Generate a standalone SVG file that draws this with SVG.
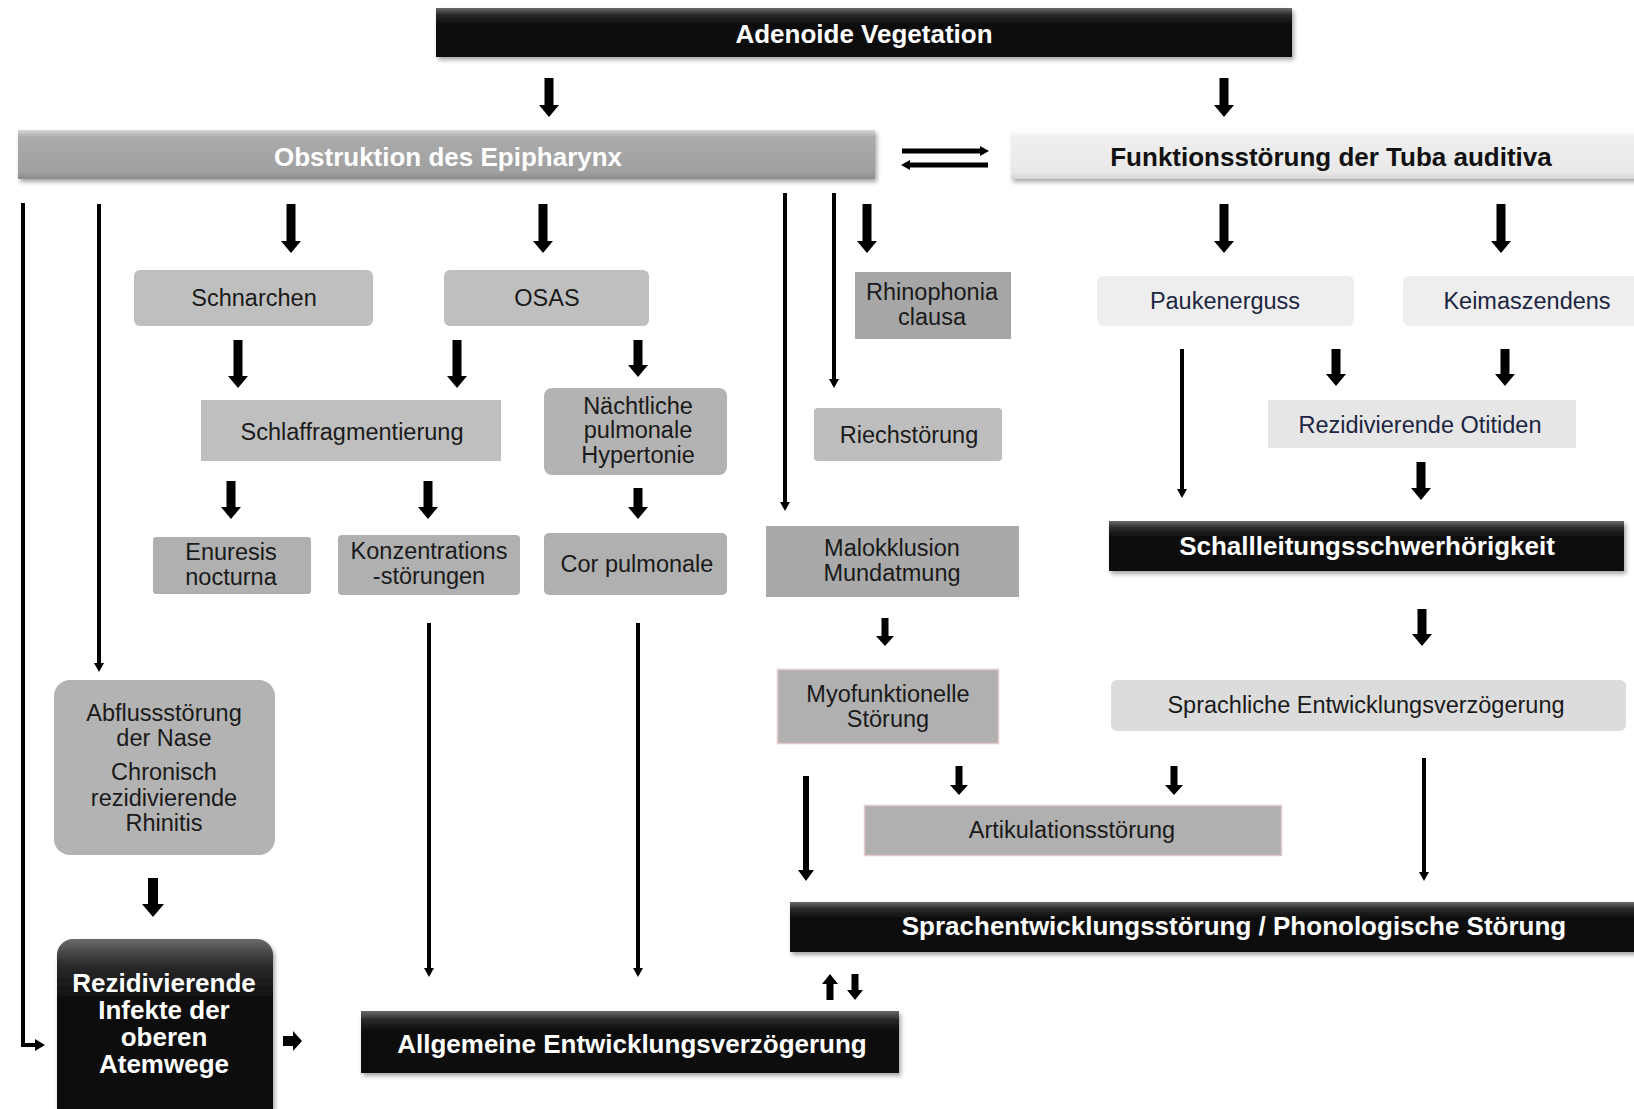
<svg xmlns="http://www.w3.org/2000/svg" width="1634" height="1109" viewBox="0 0 1634 1109">
<defs>
<linearGradient id="gBlack" x1="0" y1="0" x2="0" y2="1">
<stop offset="0" stop-color="#6a6a6a"/><stop offset="0.14" stop-color="#2a2a2a"/><stop offset="0.3" stop-color="#111"/><stop offset="1" stop-color="#0a0a0a"/>
</linearGradient>
<linearGradient id="gGray" x1="0" y1="0" x2="0" y2="1">
<stop offset="0" stop-color="#d8d8d8"/><stop offset="0.14" stop-color="#ababab"/><stop offset="0.85" stop-color="#a0a0a0"/><stop offset="1" stop-color="#8c8c8c"/>
</linearGradient>
<linearGradient id="gLight" x1="0" y1="0" x2="0" y2="1">
<stop offset="0" stop-color="#ffffff"/><stop offset="0.15" stop-color="#efefef"/><stop offset="0.85" stop-color="#e9e9e9"/><stop offset="1" stop-color="#d4d4d4"/>
</linearGradient>
<filter id="sh" x="-5%" y="-20%" width="110%" height="150%">
<feDropShadow dx="2" dy="3" stdDeviation="2" flood-color="#000" flood-opacity="0.35"/>
</filter>
<style>
.t{font-family:"Liberation Sans",Arial,sans-serif;font-size:23.5px;fill:#1a1a1a;text-anchor:middle;dominant-baseline:central}
.b{font-family:"Liberation Sans",Arial,sans-serif;font-size:26px;font-weight:bold;fill:#fff;text-anchor:middle;dominant-baseline:central}
.navy{fill:#1c2541}
.dk{fill:#111}
.arr{fill:#000}
.ln{stroke:#000;fill:none;stroke-width:4}
</style>
</defs>

<g id="n-adenoide"><rect x="436" y="8" width="856" height="49" fill="url(#gBlack)" filter="url(#sh)"/><text class="b" x="864" y="34">Adenoide Vegetation</text></g>
<g id="n-obstruktion"><rect x="18" y="130" width="857" height="49" fill="url(#gGray)" filter="url(#sh)"/><text class="b" x="448" y="157">Obstruktion des Epipharynx</text></g>
<g id="n-funktion"><rect x="1011" y="130" width="640" height="49" fill="url(#gLight)" filter="url(#sh)"/><text class="b dk" x="1331" y="157">Funktionsstörung der Tuba auditiva</text></g>
<g id="n-schnarchen"><rect x="134" y="270" width="239" height="56" rx="6" fill="#bfbfbf"/><text class="t" x="254" y="298">Schnarchen</text></g>
<g id="n-osas"><rect x="444" y="270" width="205" height="56" rx="6" fill="#bfbfbf"/><text class="t" x="547" y="298">OSAS</text></g>
<g id="n-rhinophonia"><rect x="855" y="272" width="156" height="67" fill="#a6a6a6"/><text class="t" x="932" y="292">Rhinophonia</text><text class="t" x="932" y="317">clausa</text></g>
<g id="n-paukenerguss"><rect x="1097" y="276" width="257" height="50" rx="6" fill="#eeeeee"/><text class="t navy" x="1225" y="301">Paukenerguss</text></g>
<g id="n-keimaszendens"><rect x="1403" y="276" width="240" height="50" rx="6" fill="#eeeeee"/><text class="t navy" x="1527" y="301">Keimaszendens</text></g>
<g id="n-schlaf"><rect x="201" y="400" width="300" height="61" fill="#bfbfbf"/><text class="t" x="352" y="432">Schlaffragmentierung</text></g>
<g id="n-naechtlich"><rect x="544" y="388" width="183" height="87" rx="8" fill="#b3b3b3"/><text class="t" x="638" y="406">Nächtliche</text><text class="t" x="638" y="430">pulmonale</text><text class="t" x="638" y="455">Hypertonie</text></g>
<g id="n-riech"><rect x="814" y="408" width="188" height="53" rx="4" fill="#bdbdbd"/><text class="t" x="909" y="435">Riechstörung</text></g>
<g id="n-otitiden"><rect x="1268" y="400" width="308" height="48" fill="#e6e6e6"/><text class="t navy" x="1420" y="425">Rezidivierende Otitiden</text></g>
<g id="n-enuresis"><rect x="153" y="537" width="158" height="57" rx="3" fill="#b0b0b0"/><text class="t" x="231" y="552">Enuresis</text><text class="t" x="231" y="577">nocturna</text></g>
<g id="n-konz"><rect x="338" y="535" width="182" height="60" rx="4" fill="#b0b0b0"/><text class="t" x="429" y="551">Konzentrations</text><text class="t" x="429" y="576">-störungen</text></g>
<g id="n-cor"><rect x="544" y="533" width="183" height="62" rx="5" fill="#b0b0b0"/><text class="t" x="637" y="564">Cor pulmonale</text></g>
<g id="n-malokklusion"><rect x="766" y="526" width="253" height="71" fill="#a9a9a9"/><text class="t" x="892" y="548">Malokklusion</text><text class="t" x="892" y="573">Mundatmung</text></g>
<g id="n-schall"><rect x="1109" y="521" width="515" height="50" fill="url(#gBlack)" filter="url(#sh)"/><text class="b" x="1367" y="546">Schallleitungsschwerhörigkeit</text></g>
<g id="n-abfluss"><rect x="54" y="680" width="221" height="175" rx="16" fill="#b3b3b3"/><text class="t" x="164" y="713">Abflussstörung</text><text class="t" x="164" y="738">der Nase</text><text class="t" x="164" y="772">Chronisch</text><text class="t" x="164" y="798">rezidivierende</text><text class="t" x="164" y="823">Rhinitis</text></g>
<g id="n-myo"><rect x="777.5" y="669.5" width="221" height="74" fill="#b0b0b0" stroke="#e2caca" stroke-width="1.5"/><text class="t" x="888" y="694">Myofunktionelle</text><text class="t" x="888" y="719">Störung</text></g>
<g id="n-sprachlich"><rect x="1111" y="680" width="515" height="51" rx="6" fill="#dcdcdc"/><text class="t" x="1366" y="705" fill="#333">Sprachliche Entwicklungsverzögerung</text></g>
<g id="n-artikulation"><rect x="864.5" y="805.5" width="417" height="50" fill="#b0b0b0" stroke="#e2caca" stroke-width="1.5"/><text class="t" x="1072" y="830">Artikulationsstörung</text></g>
<g id="n-sprachentw"><rect x="790" y="902" width="860" height="50" fill="url(#gBlack)" filter="url(#sh)"/><text class="b" x="1234" y="926">Sprachentwicklungsstörung / Phonologische Störung</text></g>
<g id="n-infekte"><rect x="57" y="939" width="216" height="190" rx="16" fill="url(#gBlack)" filter="url(#sh)"/><text class="b" x="164" y="983">Rezidivierende</text><text class="b" x="164" y="1010">Infekte der</text><text class="b" x="164" y="1037">oberen</text><text class="b" x="164" y="1064">Atemwege</text></g>
<g id="n-allgemein"><rect x="361" y="1011" width="538" height="62" fill="url(#gBlack)" filter="url(#sh)"/><text class="b" x="632" y="1044">Allgemeine Entwicklungsverzögerung</text></g>

<g id="connectors">
<!-- thick short block arrows -->
<path class="arr" d="M544.5 78H553.5V105H559L549 117L539 105H544.5Z"/>
<path class="arr" d="M1219.5 78H1228.5V105H1234L1224 117L1214 105H1219.5Z"/>
<path class="arr" d="M286.5 204H295.5V241H301L291 253L281 241H286.5Z"/>
<path class="arr" d="M538.5 204H547.5V241H553L543 253L533 241H538.5Z"/>
<path class="arr" d="M862.5 204H871.5V241H877L867 253L857 241H862.5Z"/>
<path class="arr" d="M1219.5 204H1228.5V241H1234L1224 253L1214 241H1219.5Z"/>
<path class="arr" d="M1496.5 204H1505.5V241H1511L1501 253L1491 241H1496.5Z"/>
<path class="arr" d="M233.5 340H242.5V376H248L238 388L228 376H233.5Z"/>
<path class="arr" d="M452.5 340H461.5V376H467L457 388L447 376H452.5Z"/>
<path class="arr" d="M633.5 340H642.5V365H648L638 377L628 365H633.5Z"/>
<path class="arr" d="M1331.5 349H1340.5V374H1346L1336 386L1326 374H1331.5Z"/>
<path class="arr" d="M1500.5 349H1509.5V374H1515L1505 386L1495 374H1500.5Z"/>
<path class="arr" d="M226.5 481H235.5V507H241L231 519L221 507H226.5Z"/>
<path class="arr" d="M423.5 481H432.5V507H438L428 519L418 507H423.5Z"/>
<path class="arr" d="M633.5 488H642.5V507H648L638 519L628 507H633.5Z"/>
<path class="arr" d="M1416.5 462H1425.5V488H1431L1421 500L1411 488H1416.5Z"/>
<path class="arr" d="M881.5 618H888.5V636H894L885 646L876 636H881.5Z"/>
<path class="arr" d="M1417.5 609H1426.5V634H1432L1422 646L1412 634H1417.5Z"/>
<path class="arr" d="M955.5 766H962.5V785H968L959 795L950 785H955.5Z"/>
<path class="arr" d="M1170.5 766H1177.5V785H1183L1174 795L1165 785H1170.5Z"/>
<path class="arr" d="M148 878H158V904H164L153 917L142 904H148Z"/>
<path class="arr" d="M803 776H809V870H814L806 881L798 870H803Z"/>
<!-- up/down pair -->
<path class="arr" d="M826.5 1000H833.5V984H838L830 974L822 984H826.5Z"/>
<path class="arr" d="M851.5 974H858.5V990H863L855 1000L847 990H851.5Z"/>
<!-- small right arrow -->
<path class="arr" d="M283 1036H293V1031L302 1041L293 1051V1046H283Z"/>
<!-- long thin lines with arrowheads -->
<path class="ln" d="M23 203V1045H36"/>
<path class="arr" d="M35 1039L45 1045L35 1051Z"/>
<path class="ln" d="M99 204V664"/><path class="arr" d="M94 663H104L99 672Z"/>
<path class="ln" d="M785 193V503"/><path class="arr" d="M780 502H790L785 511Z"/>
<path class="ln" d="M834 193V380"/><path class="arr" d="M829 379H839L834 388Z"/>
<path class="ln" d="M1182 349V490"/><path class="arr" d="M1177 489H1187L1182 498Z"/>
<path class="ln" d="M429 623V969"/><path class="arr" d="M424 968H434L429 977Z"/>
<path class="ln" d="M638 623V969"/><path class="arr" d="M633 968H643L638 977Z"/>
<path class="ln" d="M1424 758V873"/><path class="arr" d="M1419 872H1429L1424 881Z"/>
<!-- equilibrium arrows -->
<path d="M902 151H982" stroke="#000" stroke-width="5" fill="none"/>
<path class="arr" d="M980 146L989 151L980 156Z"/>
<path d="M908 165H988" stroke="#000" stroke-width="5" fill="none"/>
<path class="arr" d="M910 160L901 165L910 170Z"/>
</g>
</svg>
